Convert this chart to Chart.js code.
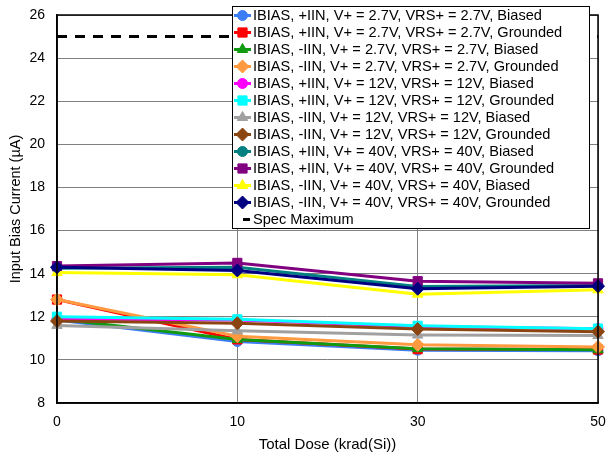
<!DOCTYPE html>
<html>
<head>
<meta charset="utf-8">
<script src="https://cdn.jsdelivr.net/npm/chart.js@4/dist/chart.umd.min.js"></script>
<style>
  html, body { margin: 0; padding: 0; background: #fff; }
  #wrap { width: 607px; height: 454px; }
</style>
</head>
<body>
<div id="wrap"><canvas id="bias-chart" width="607" height="454"></canvas></div>
<script>
// total dose categories
const doseLabels = ['0', '10', '30', '50'];

const seriesNames = [
  'IBIAS, +IIN, V+ = 2.7V, VRS+ = 2.7V, Biased',
  'IBIAS, +IIN, V+ = 2.7V, VRS+ = 2.7V, Grounded',
  'IBIAS, -IIN, V+ = 2.7V, VRS+ = 2.7V, Biased',
  'IBIAS, -IIN, V+ = 2.7V, VRS+ = 2.7V, Grounded',
  'IBIAS, +IIN, V+ = 12V, VRS+ = 12V, Biased',
  'IBIAS, +IIN, V+ = 12V, VRS+ = 12V, Grounded',
  'IBIAS, -IIN, V+ = 12V, VRS+ = 12V, Biased',
  'IBIAS, -IIN, V+ = 12V, VRS+ = 12V, Grounded',
  'IBIAS, +IIN, V+ = 40V, VRS+ = 40V, Biased',
  'IBIAS, +IIN, V+ = 40V, VRS+ = 40V, Grounded',
  'IBIAS, -IIN, V+ = 40V, VRS+ = 40V, Biased',
  'IBIAS, -IIN, V+ = 40V, VRS+ = 40V, Grounded'
];

// input bias current (uA) per series
const plus27Biased    = [11.85, 10.85, 10.45, 10.42];
const plus27Grounded  = [12.8, 10.95, 10.5, 10.48];
const minus27Biased   = [11.9, 10.95, 10.52, 10.47];
const minus27Grounded = [12.8, 11.1, 10.7, 10.6];
const plus12Biased    = [11.9, 11.85, 11.55, 11.45];
const plus12Grounded  = [12.0, 11.88, 11.58, 11.45];
const minus12Biased   = [11.6, 11.35, 11.15, 11.13];
const minus12Grounded = [11.8, 11.7, 11.43, 11.31];
const plus40Biased    = [14.25, 14.3, 13.4, 13.45];
const plus40Grounded  = [14.35, 14.5, 13.65, 13.55];
const minus40Biased   = [14.05, 13.95, 13.05, 13.25];
const minus40Grounded = [14.3, 14.15, 13.3, 13.42];

const specLabel = 'Spec Maximum';
const specMax = [25, 25, 25, 25];

const yTicks = [8, 10, 12, 14, 16, 18, 20, 22, 24, 26];

const seriesValues = [
  plus27Biased, plus27Grounded, minus27Biased, minus27Grounded,
  plus12Biased, plus12Grounded, minus12Biased, minus12Grounded,
  plus40Biased, plus40Grounded, minus40Biased, minus40Grounded
];

// styles
const colors = ['#3C7CF4', '#FF0000', '#109A10', '#FF9A40', '#FF00FF', '#00FFFF',
                '#A0A0A0', '#8B4513', '#008080', '#800080', '#FFFF00', '#000080'];
const markers = ['circle', 'rect', 'triangle', 'rectRot'];
const markerSize = { circle: 5, rect: 6.5, triangle: 6, rectRot: 6.5 };
const FONT = 'Arial, "Liberation Sans", sans-serif';

const datasets = seriesValues.map((vals, i) => {
  const ps = markers[i % 4];
  return {
    label: seriesNames[i],
    data: vals,
    borderColor: colors[i],
    backgroundColor: colors[i],
    borderWidth: 3,
    pointStyle: ps,
    pointRadius: markerSize[ps],
    pointBorderWidth: 1,
    tension: 0,
    order: 20 - i
  };
});
datasets.push({
  label: specLabel,
  data: specMax,
  borderColor: '#000',
  backgroundColor: '#000',
  borderWidth: 3,
  borderDash: [10, 8],
  pointRadius: 0,
  order: 0
});

// frame around plot + legend box inside the plot
const framePlugin = {
  id: 'frame',
  afterDraw(chart) {
    const ctx = chart.ctx;
    const a = chart.chartArea;
    ctx.save();
    ctx.strokeStyle = '#000';
    ctx.lineWidth = 1.5;
    ctx.strokeRect(a.left, a.top, a.right - a.left, a.bottom - a.top);

    // legend
    const bx = 232, by = 6, bw = 357, bh = 222, row = 17;
    ctx.fillStyle = '#fff';
    ctx.fillRect(bx, by, bw, bh);
    ctx.lineWidth = 1;
    ctx.strokeStyle = '#000';
    ctx.strokeRect(bx + 0.5, by + 0.5, bw, bh);
    ctx.font = '14.6px ' + FONT;
    ctx.textBaseline = 'middle';
    chart.data.datasets.forEach((ds, i) => {
      const y = by + 9.5 + i * row;
      ctx.save();
      ctx.strokeStyle = ds.borderColor;
      ctx.lineWidth = 3;
      ctx.beginPath();
      if (ds.borderDash) {
        ctx.moveTo(243, y); ctx.lineTo(250, y);
      } else {
        ctx.moveTo(234, y); ctx.lineTo(251, y);
      }
      ctx.stroke();
      if (ds.pointRadius) {
        ctx.fillStyle = ds.backgroundColor;
        ctx.lineWidth = 1;
        Chart.helpers.drawPoint(ctx, {
          pointStyle: ds.pointStyle, radius: ds.pointRadius, rotation: 0, borderWidth: 1
        }, 242.5, y);
      }
      ctx.restore();
      ctx.fillStyle = '#000';
      ctx.fillText(ds.label, 253, y + 0.5);
    });
    ctx.restore();
  }
};

new Chart(document.getElementById('bias-chart'), {
  type: 'line',
  data: { labels: doseLabels, datasets: datasets },
  options: {
    responsive: false,
    animation: false,
    layout: { padding: { left: 0, top: 15, right: 9, bottom: 0 } },
    plugins: { legend: { display: false }, tooltip: { enabled: false } },
    scales: {
      x: {
        type: 'category',
        offset: false,
        grid: { color: '#808080', lineWidth: 1, drawTicks: false },
        border: { color: '#000', width: 1.5 },
        ticks: { color: '#000', font: { family: FONT, size: 14 }, padding: 11, maxRotation: 0 },
        title: { display: true, text: 'Total Dose (krad(Si))', color: '#000',
                 font: { family: FONT, size: 15 }, padding: { top: 3, bottom: 0 } },
        afterFit: s => { s.height = 51; s.paddingRight = 0; s.paddingLeft = 0; }
      },
      y: {
        min: 8,
        max: 26,
        afterBuildTicks: s => { s.ticks = yTicks.map(v => ({ value: v })); },
        grid: { color: '#808080', lineWidth: 1, drawTicks: false },
        border: { color: '#000', width: 1.5 },
        ticks: { color: '#000', font: { family: FONT, size: 14 }, padding: 12 },
        title: { display: true, text: 'Input Bias Current (µA)', color: '#000',
                 font: { family: FONT, size: 14.5 }, padding: { top: 7, bottom: 4 } },
        afterFit: s => { s.width = 57; s.paddingTop = 0; s.paddingBottom = 0; }
      }
    }
  },
  plugins: [framePlugin]
});
</script>
</body>
</html>
